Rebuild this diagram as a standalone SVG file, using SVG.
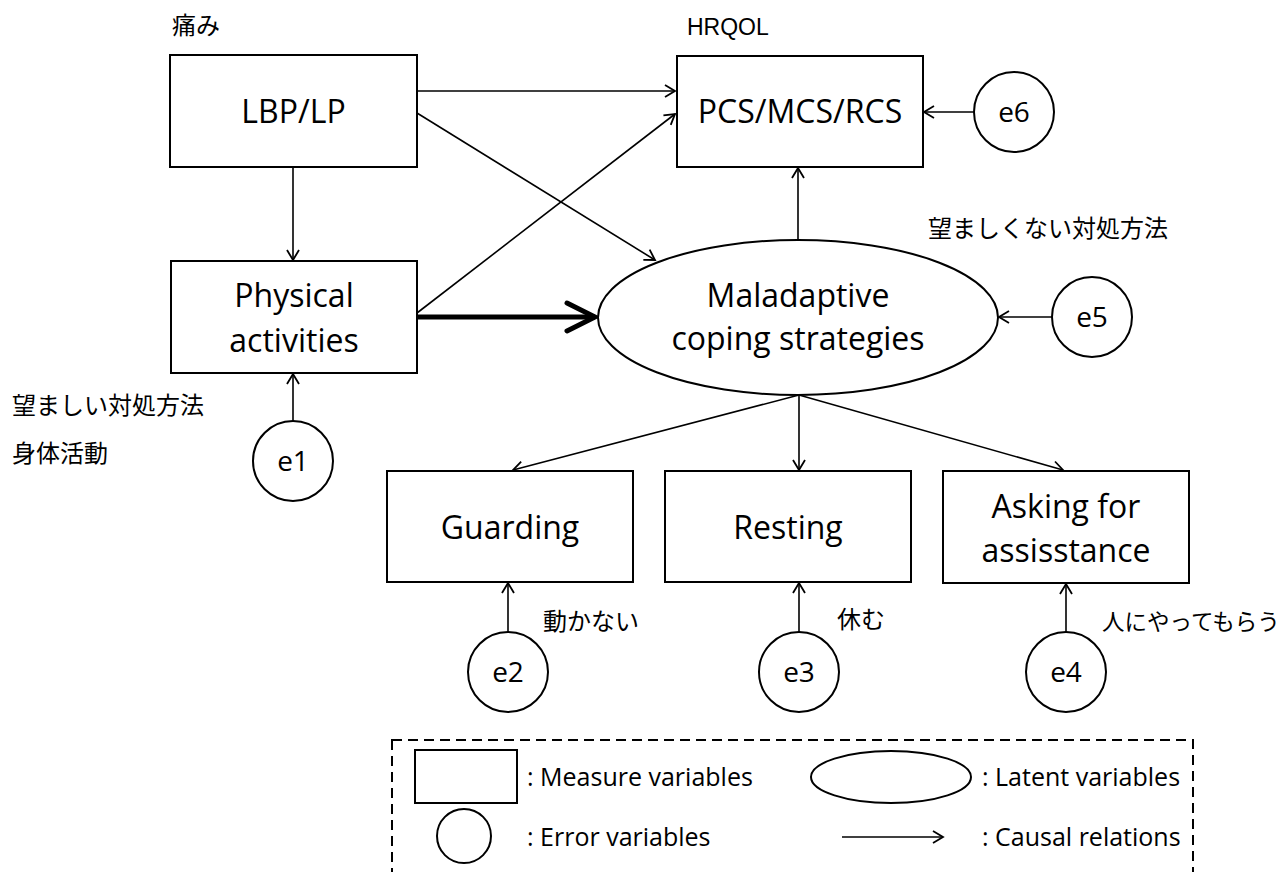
<svg xmlns="http://www.w3.org/2000/svg" width="1286" height="872" viewBox="0 0 1286 872">
<style>
.box{fill:#fff;stroke:#000;stroke-width:2}
.lbl{font-family:"Open Sans","Noto Sans",sans-serif;font-size:32px;fill:#000;text-anchor:middle}
.err{font-family:"Open Sans","Noto Sans",sans-serif;font-size:28px;fill:#000;text-anchor:middle}
.jp{font-family:"Noto Sans CJK JP",sans-serif;font-size:24px;fill:#000}
.hr{font-family:"Liberation Sans",Arial,sans-serif;font-size:23px;fill:#000}
.leg{font-family:"Open Sans","Noto Sans",sans-serif;font-size:25px;fill:#000}
.con{fill:none;stroke:#000;stroke-width:1.6;marker-end:url(#ah)}
.thick{fill:none;stroke:#000;stroke-width:5;marker-end:url(#ahb)}
</style>
<defs>
<marker id="ah" markerUnits="userSpaceOnUse" markerWidth="14" markerHeight="16" refX="11" refY="7" orient="auto" viewBox="0 0 14 16">
<path d="M1,1 L11,7 L1,13" fill="none" stroke="#000" stroke-width="1.8"/>
</marker>
<marker id="ahb" markerUnits="userSpaceOnUse" markerWidth="36" markerHeight="36" refX="31" refY="17" orient="auto" viewBox="0 0 36 36">
<path d="M3,3 L31,17 L3,31" fill="none" stroke="#000" stroke-width="5" stroke-linecap="round" stroke-linejoin="miter"/>
</marker>
</defs>

<g id="connectors">
<line class="con" x1="417" y1="91" x2="675" y2="91"/>
<line class="con" x1="417" y1="113" x2="655" y2="260"/>
<line class="con" x1="417" y1="313" x2="675" y2="114"/>
<line class="con" x1="293" y1="167" x2="293" y2="260"/>
<line class="thick" x1="417" y1="317" x2="595" y2="317"/>
<line class="con" x1="798" y1="240" x2="798" y2="168"/>
<line class="con" x1="974" y1="112" x2="924" y2="112"/>
<line class="con" x1="1052" y1="317" x2="999" y2="317"/>
<line class="con" x1="293" y1="421" x2="293" y2="374"/>
<line class="con" x1="799" y1="395" x2="513" y2="470"/>
<line class="con" x1="799" y1="395" x2="799" y2="470"/>
<line class="con" x1="799" y1="395" x2="1063" y2="470"/>
<line class="con" x1="508" y1="632" x2="508" y2="583"/>
<line class="con" x1="799" y1="632" x2="799" y2="583"/>
<line class="con" x1="1066" y1="632" x2="1066" y2="584"/>
</g>

<g id="n-lbp">
<rect class="box" x="170" y="55" width="247" height="112"/>
<text class="lbl" x="293.5" y="123">LBP/LP</text>
</g>
<g id="n-pcs">
<rect class="box" x="677" y="56" width="246" height="111"/>
<text class="lbl" x="800" y="123">PCS/MCS/RCS</text>
</g>
<g id="n-phys">
<rect class="box" x="171" y="261" width="246" height="112"/>
<text class="lbl" x="294" y="307">Physical</text>
<text class="lbl" x="294" y="352">activities</text>
</g>
<g id="n-mal">
<ellipse class="box" cx="798" cy="317.5" rx="200" ry="77.5"/>
<text class="lbl" x="798" y="307">Maladaptive</text>
<text class="lbl" x="798" y="350">coping strategies</text>
</g>
<g id="n-guard">
<rect class="box" x="387" y="471" width="246" height="111"/>
<text class="lbl" x="510" y="539">Guarding</text>
</g>
<g id="n-rest">
<rect class="box" x="665" y="471" width="246" height="111"/>
<text class="lbl" x="788" y="539">Resting</text>
</g>
<g id="n-ask">
<rect class="box" x="943" y="471" width="246" height="112"/>
<text class="lbl" x="1066" y="518">Asking for</text>
<text class="lbl" x="1066" y="562">assisstance</text>
</g>
<g id="n-e1">
<circle class="box" cx="293" cy="461" r="40"/>
<text class="err" x="293" y="471">e1</text>
</g>
<g id="n-e2">
<circle class="box" cx="508" cy="672" r="40"/>
<text class="err" x="508" y="682">e2</text>
</g>
<g id="n-e3">
<circle class="box" cx="799" cy="672" r="40"/>
<text class="err" x="799" y="682">e3</text>
</g>
<g id="n-e4">
<circle class="box" cx="1066" cy="672" r="40"/>
<text class="err" x="1066" y="682">e4</text>
</g>
<g id="n-e5">
<circle class="box" cx="1092" cy="317" r="40"/>
<text class="err" x="1092" y="327">e5</text>
</g>
<g id="n-e6">
<circle class="box" cx="1014" cy="112" r="40"/>
<text class="err" x="1014" y="122">e6</text>
</g>

<g id="annotations">
<text class="jp" x="172" y="34">痛み</text>
<text class="hr" x="687" y="35">HRQOL</text>
<text class="jp" x="928" y="237">望ましくない対処方法</text>
<text class="jp" x="12" y="414">望ましい対処方法</text>
<text class="jp" x="12" y="462">身体活動</text>
<text class="jp" x="543" y="630">動かない</text>
<text class="jp" x="837" y="628">休む</text>
<text class="jp" x="1102" y="630" style="font-size:22.5px">人にやってもらう</text>
</g>

<g id="legend">
<rect x="392" y="740" width="801" height="140" fill="none" stroke="#000" stroke-width="2" stroke-dasharray="10,6"/>
<rect class="box" x="415" y="750" width="102" height="53"/>
<text class="leg" x="527" y="786">: Measure variables</text>
<ellipse class="box" cx="891" cy="777" rx="80" ry="26"/>
<text class="leg" x="982" y="786">: Latent variables</text>
<circle class="box" cx="464" cy="836" r="27"/>
<text class="leg" x="527" y="846">: Error variables</text>
<line class="con" x1="842" y1="837" x2="943" y2="837"/>
<text class="leg" x="982" y="846">: Causal relations</text>
</g>
</svg>
